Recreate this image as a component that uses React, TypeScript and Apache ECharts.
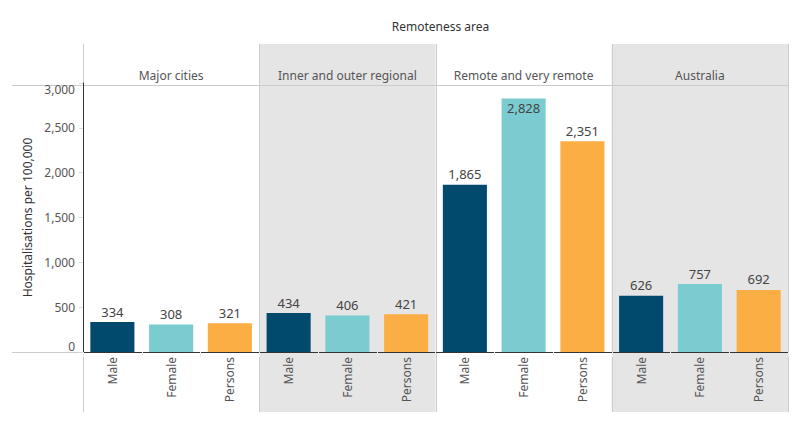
import React, { useEffect, useRef } from "react";
import * as echarts from "echarts";

const regions = ["Major cities", "Inner and outer regional", "Remote and very remote", "Australia"];
const sexes = ["Male", "Female", "Persons"];
const maleValues = [334, 434, 1865, 626];
const femaleValues = [308, 406, 2828, 757];
const personsValues = [321, 421, 2351, 692];
const yMin = 0;
const yMax = 3000;
const yInterval = 500;

const colors: Record<string, string> = { Male: "#014a6d", Female: "#7bccd1", Persons: "#fbae43" };
const FONT = "'Noto Sans', sans-serif";

const GRID_LEFT = 83;
const GRID_RIGHT_EDGE = 788;
const GRID_TOP = 83;
const GRID_BOTTOM_Y = 352;
const PANEL_TOP = 44;
const PANEL_BOTTOM = 412;
const HEADER_LINE_Y = 85;

export default function App() {
  const ref = useRef<HTMLDivElement>(null);
  useEffect(() => {
    if (!ref.current) return;
    const chart = echarts.init(ref.current, undefined, { renderer: "svg" });
    const seriesBySex: Record<string, number[]> = { Male: maleValues, Female: femaleValues, Persons: personsValues };
    const categories: string[] = [];
    const data: any[] = [];
    regions.forEach((r, ri) => {
      sexes.forEach((s) => {
        categories.push(r + "|" + s);
        const v = seriesBySex[s][ri];
        const item: any = { value: v, itemStyle: { color: colors[s] } };
        if (v > 2700) item.label = { position: "insideTop", distance: 3 };
        data.push(item);
      });
    });

    const panelW = (GRID_RIGHT_EDGE - GRID_LEFT) / regions.length;
    const graphics: any[] = [];
    regions.forEach((_, i) => {
      if (i % 2 === 1) {
        graphics.push({
          type: "rect",
          z: -10,
          shape: { x: GRID_LEFT + i * panelW, y: PANEL_TOP, width: panelW, height: PANEL_BOTTOM - PANEL_TOP },
          style: { fill: "#e5e5e5" },
          silent: true,
        });
      }
    });
    for (let i = 0; i <= regions.length; i++) {
      const x = Math.round(GRID_LEFT + i * panelW) + 0.5;
      graphics.push({
        type: "line",
        z: -5,
        shape: { x1: x, y1: PANEL_TOP, x2: x, y2: PANEL_BOTTOM },
        style: { stroke: "#cccccc", lineWidth: 1 },
        silent: true,
      });
    }
    graphics.push({
      type: "line",
      z: -5,
      shape: { x1: 12, y1: HEADER_LINE_Y + 0.5, x2: GRID_RIGHT_EDGE, y2: HEADER_LINE_Y + 0.5 },
      style: { stroke: "#cccccc", lineWidth: 1 },
      silent: true,
    });
    graphics.push({
      type: "line",
      z: -5,
      shape: { x1: 12, y1: GRID_BOTTOM_Y + 0.5, x2: GRID_LEFT, y2: GRID_BOTTOM_Y + 0.5 },
      style: { stroke: "#cccccc", lineWidth: 1 },
      silent: true,
    });

    chart.setOption({
      animation: false,
      backgroundColor: "#ffffff",
      title: {
        text: "Remoteness area",
        left: (GRID_LEFT + GRID_RIGHT_EDGE) / 2,
        textAlign: "center",
        top: 15,
        textStyle: { fontFamily: FONT, fontSize: 12, fontWeight: "normal", color: "#333333" },
      },
      graphic: graphics,
      grid: {
        left: GRID_LEFT,
        right: 800 - GRID_RIGHT_EDGE,
        top: GRID_TOP,
        bottom: 425 - GRID_BOTTOM_Y,
        containLabel: false,
      },
      xAxis: [
        {
          type: "category",
          data: categories,
          axisLine: { show: true, lineStyle: { color: "#333333", width: 1 } },
          axisTick: { show: true, length: 5, lineStyle: { color: "#eeeeee" } },
          axisLabel: {
            rotate: 90,
            margin: 5,
            interval: 0,
            fontFamily: FONT,
            fontSize: 12,
            color: "#555555",
            formatter: (v: string) => v.split("|")[1],
          },
        },
        {
          type: "category",
          position: "top",
          data: regions,
          axisLine: { show: false },
          axisTick: { show: false },
          axisLabel: {
            interval: 0,
            margin: 2,
            fontFamily: FONT,
            fontSize: 12,
            color: "#555555",
            verticalAlign: "bottom",
          },
        },
      ],
      yAxis: {
        type: "value",
        min: yMin,
        max: yMax,
        interval: yInterval,
        name: "Hospitalisations per 100,000",
        nameLocation: "middle",
        nameGap: 49,
        nameTextStyle: { fontFamily: FONT, fontSize: 12, color: "#333333" },
        axisLine: { show: true, lineStyle: { color: "#333333", width: 1 } },
        axisTick: { show: true, length: 4, lineStyle: { color: "#dddddd" } },
        splitLine: { show: false },
        axisLabel: {
          fontFamily: FONT,
          fontSize: 12,
          color: "#555555",
          margin: 8,
          verticalAlignMinLabel: "bottom",
          verticalAlignMaxLabel: "top",
          formatter: (v: number) => v.toLocaleString("en-US"),
        },
      },
      series: [
        {
          type: "bar",
          xAxisIndex: 0,
          data,
          barCategoryGap: "25%",
          z: 2,
          label: {
            show: true,
            position: "top",
            distance: 4,
            fontFamily: FONT,
            fontSize: 13,
            color: "#444444",
            formatter: (p: any) => Number(p.value).toLocaleString("en-US"),
          },
        },
      ],
    });
    return () => chart.dispose();
  }, []);
  return <div ref={ref} style={{ width: 800, height: 425, position: "absolute", left: 0, top: 0 }} />;
}
